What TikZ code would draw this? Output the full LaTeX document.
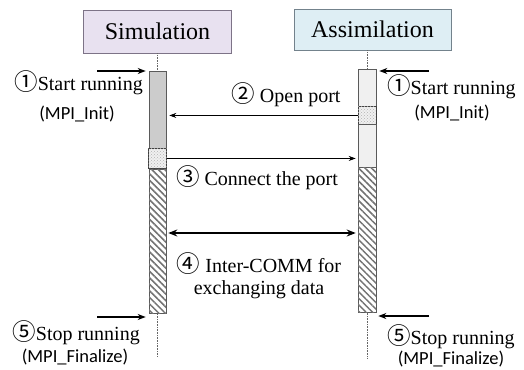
\documentclass[tikz,border=0pt]{standalone}
\usepackage{fontspec}
\setmainfont{Liberation Serif}
\newfontfamily\labelsans{Carlito}
\newfontfamily\circfont{Noto Sans CJK SC}
\usetikzlibrary{arrows.meta, calc, positioning, patterns, patterns.meta}
\definecolor{simfill}{RGB}{232,225,240}
\definecolor{simline}{RGB}{125,115,135}
\definecolor{asimfill}{RGB}{222,238,244}
\definecolor{asimline}{RGB}{115,130,140}
\definecolor{bargray}{RGB}{90,90,90}
\newcommand{\circnum}[1]{{\circfont\fontsize{23.5}{24}\selectfont #1}}

\begin{document}
\begin{tikzpicture}[x=1pt, y=-1pt,
    procbox/.style={draw, line width=0.8pt, inner sep=0pt, font=\fontsize{24}{26}\selectfont},
    lifeline/.style={densely dotted, gray!80!black, line width=0.6pt},
    runbar/.style={draw=bargray, line width=0.6pt, inner sep=0pt, anchor=north},
    portbar/.style={runbar, draw=black!75, line width=0.9pt, fill=gray!12, postaction={pattern=crosshatch dots, pattern color=gray!60}},
    commbar/.style={runbar, fill=white, postaction={pattern={Lines[angle=-45, distance=4.6pt, line width=1.5pt]}, pattern color=black!55}},
    steptext/.style={inner sep=0pt, font=\fontsize{20}{22}\selectfont},
    apitext/.style={inner sep=0pt, font=\labelsans\fontsize{18.5}{20}\selectfont},
    msg/.style={-{Stealth[length=7pt, width=5pt]}, line width=0.7pt},
    kick/.style={-{Stealth[length=8pt, width=6pt]}, line width=1.8pt}
]
\useasboundingbox (0,0) rectangle (524,369);

% Processes
\node[procbox, draw=simline, fill=simfill, minimum width=148pt, minimum height=43pt] (sim) at (157.5,31.5) {Simulation};
\node[procbox, draw=asimline, fill=asimfill, minimum width=157pt, minimum height=41pt] (asim) at (372.5,29.5) {Assimilation};

% Lifelines
\coordinate (send) at (157.5,357);
\coordinate (aend) at (367,358);
\draw[lifeline] (sim.south) -- (send);
\draw[lifeline] (asim.south -| aend) -- (aend);

% Simulation bar
\node[runbar, fill=black!20, minimum width=17pt, minimum height=77pt] (srun) at (157.5,71) {};
\node[portbar, minimum width=18pt, minimum height=20pt] (sport) at (157.5,148) {};
\node[commbar, minimum width=17pt, minimum height=144pt] (shatch) at (157.5,169) {};

% Assimilation bar
\node[runbar, fill=black!6, minimum width=18pt, minimum height=37pt] (aidle) at (367,69) {};
\node[portbar, minimum width=18pt, minimum height=18pt] (aport) at (367,106) {};
\node[runbar, fill=black!6, minimum width=18pt, minimum height=43pt] (await) at (367,124) {};
\node[commbar, minimum width=18pt, minimum height=145pt] (ahatch) at (367,167) {};

% Start / stop
\coordinate (sstart) at (97,71);
\coordinate (astart) at (429,71);
\coordinate (sstop) at (97,317);
\coordinate (astop) at (429,316);
\draw[kick] (sstart) -- ($(sstart -| srun.west)+(-3,0)$);
\draw[kick] (astart) -- ($(astart -| aidle.east)+(3,0)$);
\draw[kick] (sstop) -- ($(sstop -| shatch.west)+(-3,0)$);
\draw[kick] (astop) -- ($(astop -| ahatch.east)+(2,0)$);

% Messages
\draw[msg] (aport.west) -- ($(aport.west -| srun.east)+(3,0)$);
\draw[msg] (sport.east) -- ($(sport.east -| await.west)+(-2,0)$);
\coordinate (comm) at (262,233);
\draw[{Stealth[length=9pt, width=7pt]}-{Stealth[length=9pt, width=7pt]}, line width=2.4pt] ($(comm -| shatch.east)+(2,0)$) -- ($(comm -| ahatch.west)+(-2,0)$);

% Labels
\node[steptext, anchor=east] (sstartlbl) at (143,83) {\circnum{①}Start running};
\node[apitext] (sinit) at (77,114) {(MPI\_Init)};
\node[steptext, anchor=west] (astartlbl) at (387,87) {\circnum{①}Start running};
\node[apitext] (ainit) at (452,113) {(MPI\_Init)};
\node[steptext] (openlbl) at (286,95) {\circnum{②} Open port};
\node[steptext] (connlbl) at (257,178) {\circnum{③} Connect the port};
\node[steptext, align=center] (commlbl) at (259,276) {\circnum{④} Inter-COMM for\\exchanging data};
\node[steptext, anchor=east] (sstoplbl) at (140,333) {\circnum{⑤}Stop running};
\node[apitext] (sfin) at (75,357) {(MPI\_Finalize)};
\node[steptext, anchor=west] (astoplbl) at (387,337) {\circnum{⑤}Stop running};
\node[apitext] (afin) at (451,359) {(MPI\_Finalize)};
\end{tikzpicture}
\end{document}
